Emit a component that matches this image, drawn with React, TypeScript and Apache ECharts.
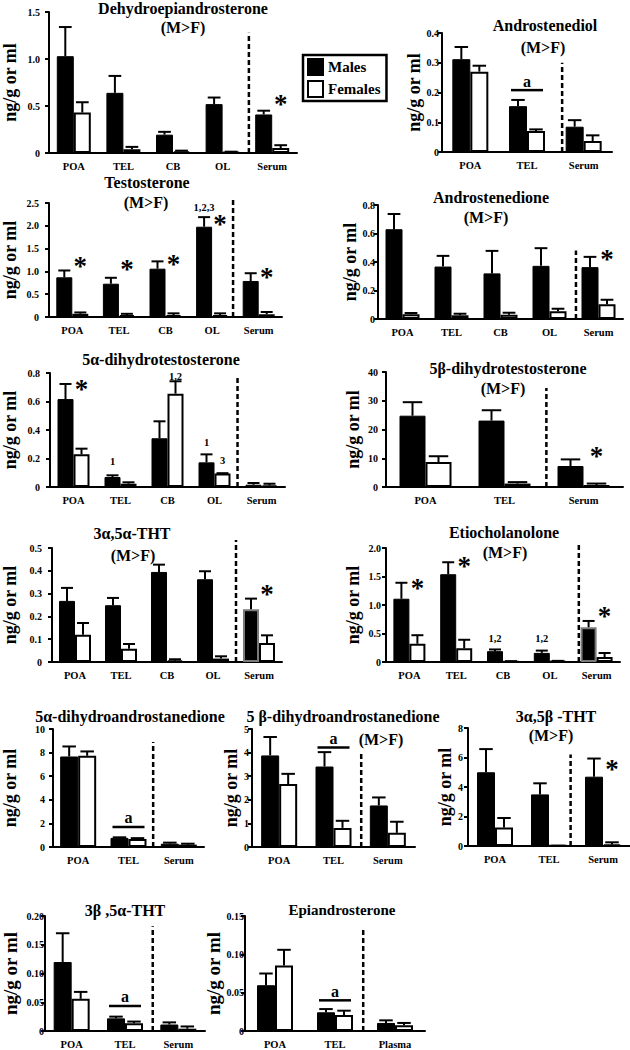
import React, { useEffect, useRef } from 'react';
import * as echarts from 'echarts';

const SERIF = '"Liberation Serif", "Times New Roman", serif';

// ---------- Data ----------
const fiveCats = ['POA', 'TEL', 'CB', 'OL', 'Serum'];
const threeCats = ['POA', 'TEL', 'Serum'];
const plasmaCats = ['POA', 'TEL', 'Plasma'];

// Dehydroepiandrosterone
const dheaMale = [1.03, 0.64, 0.195, 0.52, 0.41];
const dheaMaleSem = [0.31, 0.18, 0.03, 0.07, 0.04];
const dheaFemale = [0.43, 0.04, 0.018, 0.01, 0.053];
const dheaFemaleSem = [0.11, 0.025, 0.007, 0.004, 0.03];
const dheaStars = [[4, 0.56, 1]];
const dheaSep = [3, 0.53, 1.28];

// Androstenediol
const adiolMale = [0.312, 0.154, 0.085];
const adiolMaleSem = [0.041, 0.021, 0.022];
const adiolFemale = [0.27, 0.071, 0.037];
const adiolFemaleSem = [0.02, 0.005, 0.019];
const adiolSig = [[1, 0.208]];
const adiolSep = [1, 0.62, 0.3];

// Testosterone
const testoMale = [0.87, 0.73, 1.06, 1.98, 0.79];
const testoMaleSem = [0.15, 0.13, 0.16, 0.21, 0.17];
const testoFemale = [0.07, 0.04, 0.04, 0.04, 0.06];
const testoFemaleSem = [0.03, 0.03, 0.04, 0.04, 0.05];
const testoStars = [[0, 1.21, 1], [1, 1.14, 1], [2, 1.25, 1], [3, 2.12, 1], [4, 0.96, 1]];
const testoNotes: [number, number, number, string][] = [[3, 2.41, -1, '1,2,3']];
const testoSep = [3, 0.45, 2.63];

// Androstenedione
const adioneMale = [0.63, 0.368, 0.32, 0.373, 0.364];
const adioneMaleSem = [0.107, 0.075, 0.158, 0.124, 0.072];
const adioneFemale = [0.033, 0.026, 0.03, 0.054, 0.103];
const adioneFemaleSem = [0.009, 0.011, 0.014, 0.018, 0.032];
const adioneStars = [[4, 0.45, 1]];
const adioneSep = [3, 0.54, 0.48];

// 5α-dihydrotestosterone
const aDhtMale = [0.617, 0.07, 0.342, 0.173, 0.016];
const aDhtMaleSem = [0.106, 0.012, 0.119, 0.056, 0.012];
const aDhtFemale = [0.229, 0.023, 0.655, 0.094, 0.012];
const aDhtFemaleSem = [0.04, 0.01, 0.087, 0.003, 0.011];
const aDhtStars = [[0, 0.718, 1]];
const aDhtNotes: [number, number, number, string][] = [
  [1, 0.18, -1, '1'], [2, 0.777, 1, '1,2'], [3, 0.309, -1, '1'], [3, 0.185, 1, '3'],
];
const aDhtSep = [3, 0.49, 0.77];

// 5β-dihydrotestosterone
const bDhtMale = [24.8, 23.1, 7.3];
const bDhtMaleSem = [4.7, 3.6, 2.3];
const bDhtFemale = [8.7, 1.2, 0.7];
const bDhtFemaleSem = [2.0, 0.5, 0.5];
const bDhtStars = [[2, 12.2, 1]];
const bDhtSep = [1, 0.53, 34.4];

// 3α,5α-THT
const aaThtMale = [0.268, 0.249, 0.395, 0.363, 0.231];
const aaThtMaleSem = [0.057, 0.032, 0.032, 0.035, 0.047];
const aaThtFemale = [0.12, 0.058, 0.007, 0.015, 0.083];
const aaThtFemaleSem = [0.051, 0.021, 0.005, 0.01, 0.034];
const aaThtStars = [[4, 0.314, 1]];
const aaThtSep = [3, 0.5, 0.535];

// Etiocholanolone
const etioMale = [1.11, 1.54, 0.19, 0.16, 0.61];
const etioMaleSem = [0.28, 0.21, 0.03, 0.04, 0.11];
const etioFemale = [0.32, 0.24, 0.01, 0.015, 0.088];
const etioFemaleSem = [0.15, 0.15, 0.005, 0.005, 0.07];
const etioStars = [[0, 1.37, 1], [1, 1.75, 1], [4, 0.88, 1]];
const etioNotes: [number, number, number, string][] = [[2, 0.41, -1, '1,2'], [3, 0.41, -1, '1,2']];
const etioSep = [3, 0.62, 2.1];

// 5α-dihydroandrostanedione
const aDhaMale = [7.67, 0.77, 0.28];
const aDhaMaleSem = [0.85, 0.05, 0.09];
const aDhaFemale = [7.73, 0.68, 0.2];
const aDhaFemaleSem = [0.37, 0.07, 0.08];
const aDhaSig = [[1, 1.7]];
const aDhaSep = [1, 0.49, 8.9];

// 5β-dihydroandrostanedione
const bDhaMale = [3.88, 3.41, 1.76];
const bDhaMaleSem = [0.78, 0.61, 0.34];
const bDhaFemale = [2.67, 0.81, 0.6];
const bDhaFemaleSem = [0.43, 0.3, 0.47];
const bDhaSig = [[1, 4.22]];
const bDhaSep = [1, 0.51, 4.0];

// 3α,5β-THT
const abThtMale = [5.0, 3.5, 4.7];
const abThtMaleSem = [1.57, 0.75, 1.23];
const abThtFemale = [1.25, 0.02, 0.11];
const abThtFemaleSem = [0.65, 0, 0.14];
const abThtStars = [[2, 5.5, 1]];
const abThtSep = [1, 0.4, 6.2];

// 3β,5α-THT
const baThtMale = [0.12, 0.022, 0.0113];
const baThtMaleSem = [0.05, 0.003, 0.0037];
const baThtFemale = [0.056, 0.0136, 0.004];
const baThtFemaleSem = [0.012, 0.0028, 0.0039];
const baThtSig = [[1, 0.0435]];
const baThtSep = [1, 0.52, 0.182];

// Epiandrosterone
const epiMale = [0.0597, 0.0244, 0.0105];
const epiMaleSem = [0.0153, 0.0042, 0.0034];
const epiFemale = [0.0853, 0.021, 0.0076];
const epiFemaleSem = [0.0206, 0.0055, 0.0029];
const epiSig = [[1, 0.04]];
const epiSep = [1, 0.47, 0.132];

type Panel = {
  titles: [string, number, number, number?][];
  grid: [number, number, number, number];
  cats: string[];
  male: number[]; maleSem: number[]; female: number[]; femaleSem: number[];
  max: number; interval: number; dec: number;
  barW: number; sep: number[];
  stars?: number[][]; notes?: [number, number, number, string][]; sigs?: number[][];
  nameGap: number; lm: number; nameSize?: number; grayMale?: number[];
};

const panels: Panel[] = [
  {
    titles: [['Dehydroepiandrosterone', 183, 8], ['(M>F)', 183, 27]],
    grid: [45, 12, 252, 141], cats: fiveCats,
    male: dheaMale, maleSem: dheaMaleSem, female: dheaFemale, femaleSem: dheaFemaleSem,
    max: 1.5, interval: 0.5, dec: 1, barW: 17, sep: dheaSep, stars: dheaStars, nameGap: 30, lm: 9,
  },
  {
    titles: [['Androstenediol', 545, 25], ['(M>F)', 543, 47]],
    grid: [442, 33, 170, 119], cats: threeCats,
    male: adiolMale, maleSem: adiolMaleSem, female: adiolFemale, femaleSem: adiolFemaleSem,
    max: 0.4, interval: 0.1, dec: 1, barW: 18, sep: adiolSep, sigs: adiolSig, nameGap: 19, lm: 3,
  },
  {
    titles: [['Testosterone', 147, 182], ['(M>F)', 146, 202]],
    grid: [45, 203, 237, 114], cats: fiveCats,
    male: testoMale, maleSem: testoMaleSem, female: testoFemale, femaleSem: testoFemaleSem,
    max: 2.5, interval: 0.5, dec: 1, barW: 16, sep: testoSep, stars: testoStars, notes: testoNotes, nameGap: 30, lm: 10,
  },
  {
    titles: [['Androstenedione', 491, 197], ['(M>F)', 486, 217]],
    grid: [378, 205, 245, 114], cats: fiveCats,
    male: adioneMale, maleSem: adioneMaleSem, female: adioneFemale, femaleSem: adioneFemaleSem,
    max: 0.8, interval: 0.2, dec: 1, barW: 17, sep: adioneSep, stars: adioneStars, nameGap: 18, lm: 3,
  },
  {
    titles: [['5α-dihydrotestosterone', 161, 359]],
    grid: [47, 373, 238, 114], cats: fiveCats,
    male: aDhtMale, maleSem: aDhtMaleSem, female: aDhtFemale, femaleSem: aDhtFemaleSem,
    max: 0.8, interval: 0.2, dec: 1, barW: 16, sep: aDhtSep, stars: aDhtStars, notes: aDhtNotes, nameGap: 31, lm: 10,
  },
  {
    titles: [['5β-dihydrotestosterone', 508, 368], ['(M>F)', 503, 388]],
    grid: [386, 372, 237, 115], cats: threeCats,
    male: bDhtMale, maleSem: bDhtMaleSem, female: bDhtFemale, femaleSem: bDhtFemaleSem,
    max: 40, interval: 10, dec: 0, barW: 26, sep: bDhtSep, stars: bDhtStars, nameGap: 24, lm: 8,
  },
  {
    titles: [['3α,5α-THT', 132, 533], ['(M>F)', 133, 555]],
    grid: [47, 548, 235, 114], cats: fiveCats,
    male: aaThtMale, maleSem: aaThtMaleSem, female: aaThtFemale, femaleSem: aaThtFemaleSem,
    max: 0.5, interval: 0.1, dec: 1, barW: 16, sep: aaThtSep, stars: aaThtStars, nameGap: 33, lm: 10, grayMale: [4],
  },
  {
    titles: [['Etiocholanolone', 504, 532], ['(M>F)', 505, 552]],
    grid: [386, 548, 234, 114], cats: fiveCats,
    male: etioMale, maleSem: etioMaleSem, female: etioFemale, femaleSem: etioFemaleSem,
    max: 2.0, interval: 0.5, dec: 1, barW: 16, sep: etioSep, stars: etioStars, notes: etioNotes, nameGap: 24, lm: 5, grayMale: [4],
  },
  {
    titles: [['5α-dihydroandrostanedione', 130, 716]],
    grid: [50, 729, 154, 118], cats: threeCats,
    male: aDhaMale, maleSem: aDhaMaleSem, female: aDhaFemale, femaleSem: aDhaFemaleSem,
    max: 10, interval: 2, dec: 0, barW: 18, sep: aDhaSep, sigs: aDhaSig, nameGap: 34, lm: 8,
  },
  {
    titles: [['5 β-dihydroandrostanedione', 343, 716], ['(M>F)', 381, 739]],
    grid: [252, 729, 163, 118], cats: threeCats,
    male: bDhaMale, maleSem: bDhaMaleSem, female: bDhaFemale, femaleSem: bDhaFemaleSem,
    max: 5, interval: 1, dec: 0, barW: 18, sep: bDhaSep, sigs: bDhaSig, nameGap: 10, lm: 3,
  },
  {
    titles: [['3α,5β -THT', 556, 716], ['(M>F)', 551, 735]],
    grid: [468, 728, 162, 118], cats: threeCats,
    male: abThtMale, maleSem: abThtMaleSem, female: abThtFemale, femaleSem: abThtFemaleSem,
    max: 8, interval: 2, dec: 0, barW: 18, sep: abThtSep, stars: abThtStars, nameGap: 10, lm: 5,
  },
  {
    titles: [['3β ,5α-THT', 125, 910]],
    grid: [43, 916, 162, 118], cats: threeCats,
    male: baThtMale, maleSem: baThtMaleSem, female: baThtFemale, femaleSem: baThtFemaleSem,
    max: 0.2, interval: 0.05, dec: 2, barW: 18, sep: baThtSep, sigs: baThtSig, nameGap: 25, lm: 1, nameSize: 19,
  },
  {
    titles: [['Epiandrosterone', 342, 910, 15]],
    grid: [245, 916, 180, 119], cats: plasmaCats,
    male: epiMale, maleSem: epiMaleSem, female: epiFemale, femaleSem: epiFemaleSem,
    max: 0.15, interval: 0.05, dec: 2, barW: 18, sep: epiSep, sigs: epiSig, nameGap: 12, lm: 1, nameSize: 19,
  },
];

function buildOption() {
  const grid: any[] = [];
  const xAxis: any[] = [];
  const yAxis: any[] = [];
  const series: any[] = [];
  const graphic: any[] = [];

  panels.forEach((p, i) => {
    const w = p.barW;
    grid.push({ left: p.grid[0], top: p.grid[1], width: p.grid[2], height: p.grid[3] });
    xAxis.push({
      type: 'category', gridIndex: i, data: p.cats,
      axisLine: { lineStyle: { color: '#000', width: 2 } },
      axisTick: { show: false },
      axisLabel: { color: '#000', fontFamily: SERIF, fontWeight: 'bold', fontSize: 10.5, margin: 8, interval: 0 },
      splitLine: { show: false },
    });
    yAxis.push({
      type: 'value', gridIndex: i, min: 0, max: p.max, interval: p.interval,
      name: 'ng/g or ml', nameLocation: 'middle', nameGap: p.nameGap, nameRotate: 90,
      nameTextStyle: { color: '#000', fontFamily: SERIF, fontWeight: 'bold', fontSize: p.nameSize || 18 },
      axisLine: { show: true, lineStyle: { color: '#000', width: 2 } },
      axisTick: { show: true, length: 4, lineStyle: { color: '#000', width: 2 } },
      axisLabel: {
        color: '#000', fontFamily: SERIF, fontWeight: 'bold', fontSize: 10, margin: p.lm,
        formatter: (v: number) => (v === 0 ? '0' : v.toFixed(p.dec)),
      },
      splitLine: { show: false },
    });

    series.push({
      type: 'bar', name: 'Males', xAxisIndex: i, yAxisIndex: i, barWidth: w, barGap: '0%',
      data: p.male.map((v, j) =>
        p.grayMale && p.grayMale.includes(j)
          ? { value: v, itemStyle: { borderColor: '#7a7a7a', borderWidth: 2 } }
          : v),
      itemStyle: { color: '#000', borderColor: '#000', borderWidth: 1 },
    });
    series.push({
      type: 'bar', name: 'Females', xAxisIndex: i, yAxisIndex: i, barWidth: w, barGap: '0%',
      data: p.female,
      itemStyle: { color: '#fff', borderColor: '#000', borderWidth: 2 },
    });

    // error bars (upper only)
    const errData: number[][] = [];
    p.male.forEach((v, j) => errData.push([j, v, p.maleSem[j], -1]));
    p.female.forEach((v, j) => errData.push([j, v, p.femaleSem[j], 1]));
    series.push({
      type: 'custom', xAxisIndex: i, yAxisIndex: i, data: errData, z: 3,
      renderItem: (_params: any, api: any) => {
        const j = api.value(0), m = api.value(1), s = api.value(2), side = api.value(3);
        const base = api.coord([j, m]);
        const top = api.coord([j, m + s]);
        const x = base[0] + (side * w) / 2;
        const cap = w * 0.75;
        return {
          type: 'group',
          children: [
            { type: 'line', shape: { x1: x, y1: base[1], x2: x, y2: top[1] }, style: { stroke: '#000', lineWidth: 2 } },
            { type: 'line', shape: { x1: x - cap / 2, y1: top[1], x2: x + cap / 2, y2: top[1] }, style: { stroke: '#000', lineWidth: 2 } },
          ],
        };
      },
    });

    // dashed separator
    const sepFrac = p.sep[1];
    series.push({
      type: 'custom', xAxisIndex: i, yAxisIndex: i, data: [[p.sep[0], p.sep[2]]], z: 3,
      renderItem: (_params: any, api: any) => {
        const j = api.value(0);
        const a = api.coord([j, 0]);
        const b = api.coord([j + 1, 0]);
        const t = api.coord([j, api.value(1)]);
        const x = a[0] + sepFrac * (b[0] - a[0]);
        return {
          type: 'line', shape: { x1: x, y1: a[1], x2: x, y2: t[1] },
          style: { stroke: '#000', lineWidth: 2.5, lineDash: [5, 3] },
        };
      },
    });

    if (p.stars) {
      series.push({
        type: 'custom', xAxisIndex: i, yAxisIndex: i, data: p.stars.map((s) => [s[0], s[1], s[2]]), z: 4,
        renderItem: (_params: any, api: any) => {
          const c = api.coord([api.value(0), api.value(1)]);
          return {
            type: 'text', x: c[0] + (api.value(2) * w) / 2, y: c[1] + 4,
            style: { text: '*', fill: '#000', fontFamily: SERIF, fontWeight: 'bold', fontSize: 27, textAlign: 'center', textVerticalAlign: 'middle' },
          };
        },
      });
    }
    if (p.notes) {
      const notes = p.notes;
      series.push({
        type: 'custom', xAxisIndex: i, yAxisIndex: i, data: notes.map((s) => [s[0], s[1], s[2]]), z: 4,
        renderItem: (params: any, api: any) => {
          const c = api.coord([api.value(0), api.value(1)]);
          return {
            type: 'text', x: c[0] + (api.value(2) * w) / 2, y: c[1],
            style: { text: notes[params.dataIndex][3], fill: '#000', fontFamily: SERIF, fontWeight: 'bold', fontSize: 10.5, textAlign: 'center', textVerticalAlign: 'middle' },
          };
        },
      });
    }
    if (p.sigs) {
      series.push({
        type: 'custom', xAxisIndex: i, yAxisIndex: i, data: p.sigs.map((s) => [s[0], s[1]]), z: 4,
        renderItem: (_params: any, api: any) => {
          const c = api.coord([api.value(0), api.value(1)]);
          const half = w - 2;
          return {
            type: 'group',
            children: [
              { type: 'line', shape: { x1: c[0] - half, y1: c[1], x2: c[0] + half, y2: c[1] }, style: { stroke: '#000', lineWidth: 2.5 } },
              { type: 'text', x: c[0], y: c[1] - 1, style: { text: 'a', fill: '#000', fontFamily: SERIF, fontWeight: 'bold', fontSize: 16, textAlign: 'center', textVerticalAlign: 'bottom' } },
            ],
          };
        },
      });
    }

    p.titles.forEach((t) => {
      graphic.push({
        type: 'text', x: t[1], y: t[2],
        style: { text: t[0], fill: '#000', fontFamily: SERIF, fontWeight: 'bold', fontSize: t[3] || 16, textAlign: 'center', textVerticalAlign: 'middle' },
      });
    });
  });

  return {
    animation: false,
    backgroundColor: '#fff',
    grid, xAxis, yAxis, series, graphic,
    legend: {
      data: ['Males', 'Females'], orient: 'vertical', left: 303, top: 55,
      itemWidth: 15, itemHeight: 16, itemGap: 4, padding: [3, 6, 3, 4],
      borderColor: '#000', borderWidth: 2.5, icon: 'rect', selectedMode: false,
      textStyle: { color: '#000', fontFamily: SERIF, fontWeight: 'bold', fontSize: 15 },
    },
  };
}

export default function App() {
  const ref = useRef<HTMLDivElement>(null);
  useEffect(() => {
    if (!ref.current) return;
    const chart = echarts.init(ref.current, undefined, { renderer: 'svg' });
    chart.setOption(buildOption() as any);
    return () => chart.dispose();
  }, []);
  return (
    <div
      ref={ref}
      style={{ position: 'absolute', left: 0, top: 0, width: 630, height: 1050, background: '#fff' }}
    />
  );
}
